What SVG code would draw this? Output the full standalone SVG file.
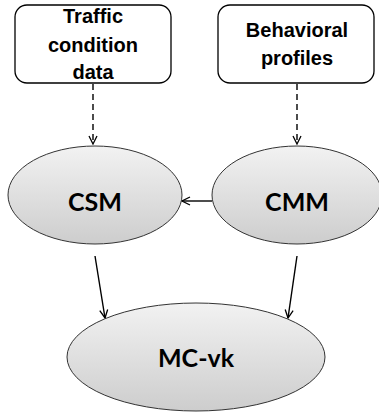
<svg xmlns="http://www.w3.org/2000/svg" width="379" height="414" viewBox="0 0 379 414">
<defs>
<linearGradient id="g" x1="0" y1="0" x2="0" y2="1">
<stop offset="0" stop-color="#f2f2f2"/>
<stop offset="1" stop-color="#cdcdcd"/>
</linearGradient>
<marker id="ah" markerWidth="10" markerHeight="10" refX="9" refY="5" orient="auto" markerUnits="userSpaceOnUse">
<path d="M1,1 L9,5 L1,9" fill="none" stroke="#000" stroke-width="1.3"/>
</marker>
<style>
.box{fill:#fff;stroke:#000;stroke-width:1.3}
.ell{fill:url(#g);stroke:#333;stroke-width:1}
.bt{font-family:"Liberation Sans",Arial,sans-serif;font-weight:bold;font-size:20px;text-anchor:middle;fill:#000}
.et{font-family:Lato,"Open Sans",sans-serif;font-weight:bold;font-size:25px;text-anchor:middle;fill:#000}
.c{stroke:#000;stroke-width:1.4;fill:none;marker-end:url(#ah)}
.d{stroke-dasharray:6,4}
</style>
</defs>
<g id="connectors">
<line class="c d" x1="93" y1="84" x2="93" y2="144"/>
<line class="c d" x1="297" y1="84" x2="297" y2="144"/>
<line class="c" x1="212" y1="201" x2="182" y2="201"/>
<line class="c" x1="95" y1="256" x2="105" y2="318"/>
<line class="c" x1="297" y1="256" x2="288" y2="318"/>
</g>
<g id="traffic">
<rect class="box" x="15" y="5" width="156" height="78" rx="12"/>
<text class="bt" x="93" y="23">Traffic</text>
<text class="bt" x="93" y="52">condition</text>
<text class="bt" x="93" y="79">data</text>
</g>
<g id="behavioral">
<rect class="box" x="218" y="5" width="156" height="78" rx="12"/>
<text class="bt" x="297" y="37">Behavioral</text>
<text class="bt" x="297" y="65">profiles</text>
</g>
<g id="csm">
<ellipse class="ell" cx="95" cy="195" rx="87" ry="49"/>
<text class="et" x="95" y="211">CSM</text>
</g>
<g id="cmm">
<ellipse class="ell" cx="297" cy="195" rx="85" ry="49"/>
<text class="et" x="297" y="211">CMM</text>
</g>
<g id="mcvk">
<ellipse class="ell" cx="196" cy="357" rx="129" ry="54"/>
<text class="et" x="196" y="367">MC-vk</text>
</g>
</svg>
